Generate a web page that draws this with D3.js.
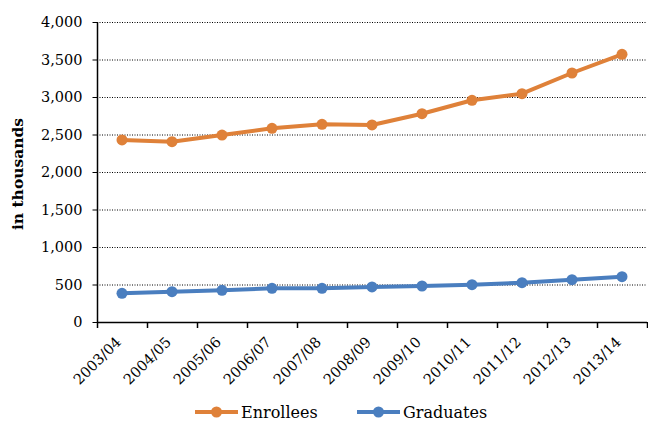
<!DOCTYPE html>
<html><head><meta charset="utf-8">
<script src="https://cdn.jsdelivr.net/npm/d3@7"></script>
<style>body{margin:0;background:#fff}svg{display:block}</style>
</head><body>
<svg id="c" width="648" height="421"></svg>
<script>
const categories = ["2003/04","2004/05","2005/06","2006/07","2007/08","2008/09","2009/10","2010/11","2011/12","2012/13","2013/14"];
const enrollees = [2427,2404,2493,2582,2636,2627,2777,2956,3044,3320,3569];
const graduates = [382,404,422,449,449,467,480,498,524,564,604];
const yTicks = [0,500,1000,1500,2000,2500,3000,3500,4000];
const seriesNames = ["Enrollees","Graduates"];
const colors = ["#DF8139","#4A7EBF"];

const svg = d3.select("#c");
const font = "DejaVu Serif";
const x = d3.scaleBand().domain(categories).range([97,647]);
const y = d3.scaleLinear().domain([0,4000]).range([322,22]);

// gridlines
svg.append("g").selectAll("line").data(yTicks.filter(d=>d>0)).join("line")
  .attr("x1",97).attr("x2",647).attr("y1",d=>y(d)+0.5).attr("y2",d=>y(d)+0.5)
  .attr("stroke","#000").attr("stroke-width",1).attr("stroke-dasharray","1,1.5");

// y axis
const ya = svg.append("g").attr("transform","translate(97.5,0)")
  .call(d3.axisLeft(y).tickValues(yTicks).tickSize(5).tickPadding(10).tickFormat(d3.format(",")));
ya.select(".domain").attr("stroke","#000").attr("stroke-width",1.5).attr("d","M0,22V322.5");
ya.selectAll("text").attr("font-family",font).attr("font-size",14.5).attr("fill","#000");

// x axis
const xa = svg.append("g").attr("transform","translate(0,322.5)")
  .call(d3.axisBottom(x).tickSize(0).tickFormat(""));
xa.select(".domain").attr("stroke","#000").attr("stroke-width",1.5).attr("d","M97,0H647");
const tickPos = categories.map(c=>x(c)).concat([647]);
svg.append("g").selectAll("line").data(tickPos).join("line")
  .attr("x1",d=>d+0.5).attr("x2",d=>d+0.5).attr("y1",322).attr("y2",328)
  .attr("stroke","#000").attr("stroke-width",1.5);
svg.append("g").selectAll("text").data(categories).join("text")
  .attr("transform",d=>`translate(${x(d)+x.bandwidth()/2},${343}) rotate(-45)`)
  .attr("text-anchor","end").attr("font-family",font).attr("font-size",14.5)
  .text(d=>d);

// y label
svg.append("text").attr("transform","translate(23,174) rotate(-90)")
  .attr("text-anchor","middle").attr("font-family",font).attr("font-weight","bold")
  .attr("font-size",15.5).text("in thousands");

const cx = d => x(d)+x.bandwidth()/2;
const line = d3.line().x((d,i)=>cx(categories[i])).y(d=>y(d));
[enrollees,graduates].forEach((s,k)=>{
  svg.append("path").datum(s).attr("d",line).attr("fill","none")
    .attr("stroke",colors[k]).attr("stroke-width",4).attr("stroke-linejoin","round");
  svg.append("g").selectAll("circle").data(s).join("circle")
    .attr("cx",(d,i)=>cx(categories[i])).attr("cy",d=>y(d)).attr("r",5.5).attr("fill",colors[k]);
});

// legend
const legX = [195,357];
seriesNames.forEach((n,k)=>{
  const g = svg.append("g").attr("transform",`translate(${legX[k]},412)`);
  g.append("line").attr("x1",0).attr("x2",43).attr("y1",0).attr("y2",0)
    .attr("stroke",colors[k]).attr("stroke-width",4);
  g.append("circle").attr("cx",21.5).attr("cy",0).attr("r",5.5).attr("fill",colors[k]);
  g.append("text").attr("x",46).attr("y",0).attr("dy","0.35em")
    .attr("font-family",font).attr("font-size",16).text(n);
});
</script>
</body></html>
